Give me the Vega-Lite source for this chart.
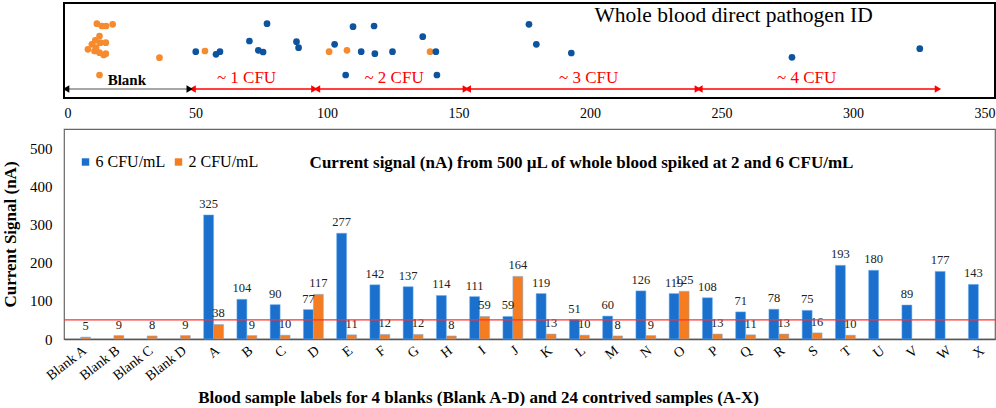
{
  "$schema": "https://vega.github.io/schema/vega-lite/v6.json",
  "background": "white",
  "padding": {"left": 0, "top": 2, "right": 3, "bottom": 0},
  "spacing": 7,
  "config": {"font": "Liberation Serif", "view": {"stroke": null}},
  "resolve": {"scale": {"x": "independent", "y": "independent", "color": "independent"}, "legend": {"color": "independent"}},
  "datasets": {
    "pts": [
      {"x": 12.5, "y": 74.3, "grp": "2 CFU/mL"}, {"x": 14.4, "y": 72, "grp": "2 CFU/mL"}, {"x": 16.0, "y": 72, "grp": "2 CFU/mL"}, {"x": 18.5, "y": 73.7, "grp": "2 CFU/mL"},
      {"x": 13.5, "y": 62, "grp": "2 CFU/mL"}, {"x": 11.9, "y": 57.7, "grp": "2 CFU/mL"}, {"x": 13.8, "y": 55.3, "grp": "2 CFU/mL"}, {"x": 15.9, "y": 55.3, "grp": "2 CFU/mL"},
      {"x": 10.6, "y": 53.7, "grp": "2 CFU/mL"}, {"x": 9.1, "y": 48.7, "grp": "2 CFU/mL"}, {"x": 11.6, "y": 47, "grp": "2 CFU/mL"}, {"x": 13.5, "y": 45.3, "grp": "2 CFU/mL"},
      {"x": 15.9, "y": 44.3, "grp": "2 CFU/mL"}, {"x": 15.1, "y": 43, "grp": "2 CFU/mL"}, {"x": 12.2, "y": 50.3, "grp": "2 CFU/mL"}, {"x": 13.5, "y": 23, "grp": "2 CFU/mL"},
      {"x": 36.3, "y": 40.3, "grp": "2 CFU/mL"}, {"x": 53.6, "y": 47, "grp": "2 CFU/mL"}, {"x": 100.8, "y": 46.3, "grp": "2 CFU/mL"}, {"x": 107.6, "y": 47.7, "grp": "2 CFU/mL"},
      {"x": 139.2, "y": 46.3, "grp": "2 CFU/mL"},
      {"x": 50.1, "y": 46.3, "grp": "6 CFU/mL"}, {"x": 57.8, "y": 43.7, "grp": "6 CFU/mL"}, {"x": 59.3, "y": 46.3, "grp": "6 CFU/mL"}, {"x": 70.5, "y": 57, "grp": "6 CFU/mL"},
      {"x": 77.2, "y": 74.3, "grp": "6 CFU/mL"}, {"x": 73.9, "y": 47.7, "grp": "6 CFU/mL"}, {"x": 75.7, "y": 46, "grp": "6 CFU/mL"}, {"x": 88.4, "y": 56.3, "grp": "6 CFU/mL"},
      {"x": 89.2, "y": 50.3, "grp": "6 CFU/mL"}, {"x": 102.9, "y": 53.7, "grp": "6 CFU/mL"}, {"x": 109.9, "y": 71.3, "grp": "6 CFU/mL"}, {"x": 117.9, "y": 72, "grp": "6 CFU/mL"},
      {"x": 113.0, "y": 46.3, "grp": "6 CFU/mL"}, {"x": 118.2, "y": 44.3, "grp": "6 CFU/mL"}, {"x": 124.9, "y": 46.3, "grp": "6 CFU/mL"}, {"x": 107.1, "y": 23, "grp": "6 CFU/mL"},
      {"x": 136.4, "y": 61.3, "grp": "6 CFU/mL"}, {"x": 141.4, "y": 46.3, "grp": "6 CFU/mL"}, {"x": 141.8, "y": 23, "grp": "6 CFU/mL"}, {"x": 176.8, "y": 73.7, "grp": "6 CFU/mL"},
      {"x": 179.6, "y": 53.7, "grp": "6 CFU/mL"}, {"x": 192.9, "y": 45, "grp": "6 CFU/mL"}, {"x": 276.8, "y": 40.7, "grp": "6 CFU/mL"}, {"x": 325.4, "y": 49.3, "grp": "6 CFU/mL"}
    ],
    "arrows": [
      {"label": "Blank", "kind": "blank", "x1": 0.8, "x2": 47.8, "xm": 23.9, "y": 9},
      {"label": "~ 1 CFU", "kind": "cfu", "x1": 48.9, "x2": 95.2, "xm": 69.4, "y": 9},
      {"label": "~ 2 CFU", "kind": "cfu", "x1": 96.2, "x2": 152.8, "xm": 125.5, "y": 9},
      {"label": "~ 3 CFU", "kind": "cfu", "x1": 153.5, "x2": 241.0, "xm": 199.5, "y": 9},
      {"label": "~ 4 CFU", "kind": "cfu", "x1": 241.6, "x2": 332.3, "xm": 282.4, "y": 9}
    ],
    "bars": [
      {"sample": "Blank A", "series": "2 CFU/mL", "value": 5},
      {"sample": "Blank B", "series": "2 CFU/mL", "value": 9},
      {"sample": "Blank C", "series": "2 CFU/mL", "value": 8},
      {"sample": "Blank D", "series": "2 CFU/mL", "value": 9},
      {"sample": "A", "series": "6 CFU/mL", "value": 325}, {"sample": "A", "series": "2 CFU/mL", "value": 38},
      {"sample": "B", "series": "6 CFU/mL", "value": 104}, {"sample": "B", "series": "2 CFU/mL", "value": 9},
      {"sample": "C", "series": "6 CFU/mL", "value": 90}, {"sample": "C", "series": "2 CFU/mL", "value": 10},
      {"sample": "D", "series": "6 CFU/mL", "value": 77}, {"sample": "D", "series": "2 CFU/mL", "value": 117},
      {"sample": "E", "series": "6 CFU/mL", "value": 277}, {"sample": "E", "series": "2 CFU/mL", "value": 11},
      {"sample": "F", "series": "6 CFU/mL", "value": 142}, {"sample": "F", "series": "2 CFU/mL", "value": 12},
      {"sample": "G", "series": "6 CFU/mL", "value": 137}, {"sample": "G", "series": "2 CFU/mL", "value": 12},
      {"sample": "H", "series": "6 CFU/mL", "value": 114}, {"sample": "H", "series": "2 CFU/mL", "value": 8},
      {"sample": "I", "series": "6 CFU/mL", "value": 111}, {"sample": "I", "series": "2 CFU/mL", "value": 59},
      {"sample": "J", "series": "6 CFU/mL", "value": 59}, {"sample": "J", "series": "2 CFU/mL", "value": 164},
      {"sample": "K", "series": "6 CFU/mL", "value": 119}, {"sample": "K", "series": "2 CFU/mL", "value": 13},
      {"sample": "L", "series": "6 CFU/mL", "value": 51}, {"sample": "L", "series": "2 CFU/mL", "value": 10},
      {"sample": "M", "series": "6 CFU/mL", "value": 60}, {"sample": "M", "series": "2 CFU/mL", "value": 8},
      {"sample": "N", "series": "6 CFU/mL", "value": 126}, {"sample": "N", "series": "2 CFU/mL", "value": 9},
      {"sample": "O", "series": "6 CFU/mL", "value": 119}, {"sample": "O", "series": "2 CFU/mL", "value": 125},
      {"sample": "P", "series": "6 CFU/mL", "value": 108}, {"sample": "P", "series": "2 CFU/mL", "value": 13},
      {"sample": "Q", "series": "6 CFU/mL", "value": 71}, {"sample": "Q", "series": "2 CFU/mL", "value": 11},
      {"sample": "R", "series": "6 CFU/mL", "value": 78}, {"sample": "R", "series": "2 CFU/mL", "value": 13},
      {"sample": "S", "series": "6 CFU/mL", "value": 75}, {"sample": "S", "series": "2 CFU/mL", "value": 16},
      {"sample": "T", "series": "6 CFU/mL", "value": 193}, {"sample": "T", "series": "2 CFU/mL", "value": 10},
      {"sample": "U", "series": "6 CFU/mL", "value": 180},
      {"sample": "V", "series": "6 CFU/mL", "value": 89},
      {"sample": "W", "series": "6 CFU/mL", "value": 177},
      {"sample": "X", "series": "6 CFU/mL", "value": 143}
    ]
  },
  "vconcat": [
    {
      "width": 931,
      "height": 95,
      "view": {"stroke": "black", "strokeWidth": 2},
      "layer": [
        {
          "data": {"name": "pts"},
          "mark": {"type": "circle", "size": 45, "opacity": 1},
          "encoding": {
            "x": {"field": "x", "type": "quantitative", "scale": {"domain": [0, 354], "nice": false, "zero": false},
                  "axis": {"values": [0, 50, 100, 150, 200, 250, 300, 350], "title": null, "grid": false, "ticks": false, "domain": false, "labelFontSize": 14, "labelPadding": 8, "labelColor": "black", "labelFont": "Liberation Serif"}},
            "y": {"field": "y", "type": "quantitative", "scale": {"domain": [0, 95], "nice": false}, "axis": null},
            "color": {"field": "grp", "type": "nominal", "scale": {"domain": ["2 CFU/mL", "6 CFU/mL"], "range": ["#f58a2e", "#0d539e"]}, "legend": null}
          }
        },
        {
          "data": {"name": "arrows"},
          "mark": {"type": "rule", "strokeWidth": 1.3},
          "encoding": {
            "x": {"field": "x1", "type": "quantitative"},
            "x2": {"field": "x2"},
            "y": {"field": "y", "type": "quantitative"},
            "color": {"condition": {"test": "datum.kind === 'blank'", "value": "#8a8a8a"}, "value": "#ff0000"}
          }
        },
        {
          "data": {"name": "arrows"},
          "mark": {"type": "point", "shape": "triangle-left", "filled": true, "size": 55, "opacity": 1},
          "encoding": {
            "x": {"field": "x1", "type": "quantitative"},
            "y": {"field": "y", "type": "quantitative"},
            "color": {"condition": {"test": "datum.kind === 'blank'", "value": "black"}, "value": "#ff0000"}
          }
        },
        {
          "data": {"name": "arrows"},
          "mark": {"type": "point", "shape": "triangle-right", "filled": true, "size": 55, "opacity": 1},
          "encoding": {
            "x": {"field": "x2", "type": "quantitative"},
            "y": {"field": "y", "type": "quantitative"},
            "color": {"condition": {"test": "datum.kind === 'blank'", "value": "black"}, "value": "#ff0000"}
          }
        },
        {
          "data": {"name": "arrows"},
          "transform": [{"filter": "datum.kind === 'blank'"}],
          "mark": {"type": "text", "fontSize": 15, "fontWeight": "bold", "color": "black", "dy": -9, "baseline": "middle"},
          "encoding": {
            "x": {"field": "xm", "type": "quantitative"},
            "y": {"field": "y", "type": "quantitative"},
            "text": {"field": "label"}
          }
        },
        {
          "data": {"name": "arrows"},
          "transform": [{"filter": "datum.kind === 'cfu'"}],
          "mark": {"type": "text", "fontSize": 17, "color": "#ff0000", "dy": -11, "baseline": "middle"},
          "encoding": {
            "x": {"field": "xm", "type": "quantitative"},
            "y": {"field": "y", "type": "quantitative"},
            "text": {"field": "label"}
          }
        },
        {
          "data": {"values": [{"t": "Whole blood direct pathogen ID", "x": 254.6, "y": 82}]},
          "mark": {"type": "text", "fontSize": 21.5, "color": "black", "baseline": "middle"},
          "encoding": {
            "x": {"field": "x", "type": "quantitative"},
            "y": {"field": "y", "type": "quantitative"},
            "text": {"field": "t"}
          }
        }
      ]
    },
    {
      "width": 931,
      "height": 210,
      "view": {"stroke": "#666666", "strokeWidth": 1.2},
      "title": {"text": "Current signal (nA) from 500 µL of whole blood spiked at 2 and 6 CFU/mL", "fontSize": 17, "fontWeight": "bold", "font": "Liberation Serif", "color": "black", "anchor": "middle", "dx": 52, "offset": -43},
      "layer": [
        {
          "data": {"name": "bars"},
          "mark": {"type": "bar", "stroke": "#6fb0f0", "strokeWidth": 0.5},
          "encoding": {
            "x": {"field": "sample", "type": "nominal",
                  "sort": ["Blank A", "Blank B", "Blank C", "Blank D", "A", "B", "C", "D", "E", "F", "G", "H", "I", "J", "K", "L", "M", "N", "O", "P", "Q", "R", "S", "T", "U", "V", "W", "X"],
                  "scale": {"paddingInner": 0.4, "paddingOuter": 0.2},
                  "axis": {"labelAngle": -38, "labelFontSize": 14, "labelColor": "black", "ticks": false, "domainColor": "#555555", "domainWidth": 1.5, "labelPadding": 4,
                           "title": "Blood sample labels for 4 blanks (Blank A-D) and 24 contrived samples (A-X)", "titleFontSize": 17, "titleFontWeight": "bold", "titleColor": "black", "titlePadding": 6, "titleX": 414, "titleFont": "Liberation Serif", "labelFont": "Liberation Serif"}},
            "xOffset": {"field": "series", "type": "nominal", "sort": ["6 CFU/mL", "2 CFU/mL"]},
            "y": {"field": "value", "type": "quantitative", "scale": {"domain": [0, 550], "nice": false},
                  "axis": {"values": [0, 100, 200, 300, 400, 500], "grid": false, "ticks": false, "domain": false, "labelFontSize": 15, "labelColor": "black", "labelPadding": 12,
                           "title": "Current Signal (nA)", "titleFontSize": 17, "titleFontWeight": "bold", "titleColor": "black", "titlePadding": 10, "titleFont": "Liberation Serif", "labelFont": "Liberation Serif"}},
            "color": {"field": "series", "type": "nominal", "scale": {"domain": ["6 CFU/mL", "2 CFU/mL"], "range": ["#1a70cc", "#f57c20"]},
                      "legend": {"title": null, "orient": "none", "legendX": 13.5, "legendY": 25, "direction": "horizontal", "symbolType": "square", "symbolSize": 55, "symbolStrokeWidth": 0, "labelFontSize": 16, "labelColor": "black", "labelFont": "Liberation Serif", "columnPadding": 5, "labelOffset": 2, "padding": 0}}
          }
        },
        {
          "data": {"name": "bars"},
          "mark": {"type": "text", "fontSize": 12.5, "color": "#222222", "baseline": "bottom", "dy": -4},
          "encoding": {
            "x": {"field": "sample", "type": "nominal", "sort": ["Blank A", "Blank B", "Blank C", "Blank D", "A", "B", "C", "D", "E", "F", "G", "H", "I", "J", "K", "L", "M", "N", "O", "P", "Q", "R", "S", "T", "U", "V", "W", "X"]},
            "xOffset": {"field": "series", "type": "nominal", "sort": ["6 CFU/mL", "2 CFU/mL"]},
            "y": {"field": "value", "type": "quantitative"},
            "text": {"field": "value", "type": "quantitative"}
          }
        },
        {
          "data": {"values": [{"threshold": 50}]},
          "mark": {"type": "rule", "color": "#ff3030", "strokeWidth": 1.2},
          "encoding": {"y": {"field": "threshold", "type": "quantitative"}}
        }
      ]
    }
  ]
}
